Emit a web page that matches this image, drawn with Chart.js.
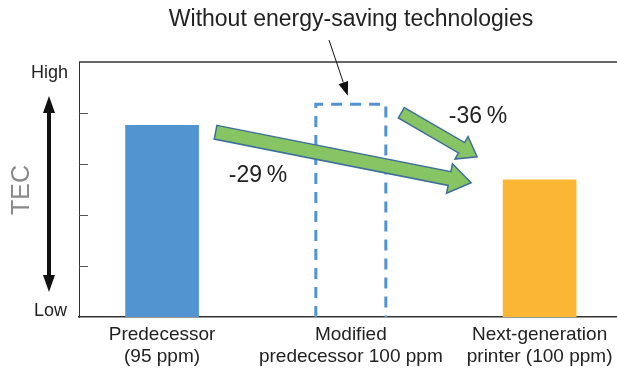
<!DOCTYPE html>
<html>
<head>
<meta charset="utf-8">
<script src="https://cdn.jsdelivr.net/npm/chart.js@4"></script>
<style>
  html, body { margin: 0; padding: 0; background: #fff; }
  canvas { display: block; }
</style>
</head>
<body>
<canvas id="tecChart" width="617" height="370"></canvas>
<script>
// bars (0 = Low, 5 = High)
const categories = [
  ["Predecessor", "(95 ppm)"],
  ["Modified", "predecessor 100 ppm"],
  ["Next-generation", "printer (100 ppm)"]
];
const tecValues = [3.76, 4.2, 2.69];
const barColors = ["#5294d0", "rgba(0,0,0,0)", "#fbb733"];
const yTicks = [0, 1, 2, 3, 4, 5];
const reductionLabels = ["-29\u2009%", "-36\u2009%"];

const FONT = "'Liberation Sans', Arial, sans-serif";

function arrow(ctx, x1, y1, x2, y2, shaft, head, headLen) {
  const a = Math.atan2(y2 - y1, x2 - x1);
  const len = Math.hypot(x2 - x1, y2 - y1);
  ctx.save();
  ctx.translate(x1, y1);
  ctx.rotate(a);
  ctx.beginPath();
  ctx.moveTo(0, -shaft / 2);
  ctx.lineTo(len - headLen, -shaft / 2);
  ctx.lineTo(len - headLen, -head / 2);
  ctx.lineTo(len, 0);
  ctx.lineTo(len - headLen, head / 2);
  ctx.lineTo(len - headLen, shaft / 2);
  ctx.lineTo(0, shaft / 2);
  ctx.closePath();
  ctx.fillStyle = "#86c464";
  ctx.fill();
  ctx.lineWidth = 1.5;
  ctx.strokeStyle = "#3d6f99";
  ctx.stroke();
  ctx.restore();
}

function thinArrow(ctx, x1, y1, x2, y2, w, l, lw) {
  const a = Math.atan2(y2 - y1, x2 - x1);
  ctx.save();
  ctx.strokeStyle = "#111";
  ctx.fillStyle = "#111";
  ctx.lineWidth = lw;
  ctx.beginPath();
  ctx.moveTo(x1, y1);
  ctx.lineTo(x2 - Math.cos(a) * l, y2 - Math.sin(a) * l);
  ctx.stroke();
  ctx.translate(x2, y2);
  ctx.rotate(a);
  ctx.beginPath();
  ctx.moveTo(0, 0);
  ctx.lineTo(-l, -w / 2);
  ctx.lineTo(-l, w / 2);
  ctx.closePath();
  ctx.fill();
  ctx.restore();
}

const decor = {
  id: "decor",
  afterDatasetsDraw(chart) {
    const ctx = chart.ctx;
    const area = chart.chartArea;
    const ys = chart.scales.y;
    const bars = chart.getDatasetMeta(0).data;

    // top frame line
    ctx.save();
    ctx.strokeStyle = "#333";
    ctx.lineWidth = 1.5;
    ctx.beginPath();
    ctx.moveTo(area.left, area.top);
    ctx.lineTo(chart.width, area.top);
    ctx.stroke();

    // inward ticks on the left axis
    ctx.lineWidth = 1;
    ctx.strokeStyle = "#555";
    ys.ticks.forEach(t => {
      if (t.value === ys.min || t.value === ys.max) return;
      const py = Math.round(ys.getPixelForValue(t.value)) + 0.5;
      ctx.beginPath();
      ctx.moveTo(area.left, py);
      ctx.lineTo(area.left + 9, py);
      ctx.stroke();
    });

    // dashed outline for the hypothetical bar
    const b = bars[1];
    const half = b.width / 2;
    ctx.strokeStyle = "#4f93d2";
    ctx.lineWidth = 3;
    ctx.setLineDash([11, 8]);
    ctx.beginPath();
    ctx.moveTo(b.x - half + 1.5, b.base);
    ctx.lineTo(b.x - half + 1.5, b.y + 1.5);
    ctx.lineTo(b.x + half - 1.5, b.y + 1.5);
    ctx.lineTo(b.x + half - 1.5, b.base);
    ctx.stroke();
    ctx.setLineDash([]);
    ctx.restore();

    // green reduction arrows
    const p = bars[0], n = bars[2];
    arrow(ctx, p.x + p.width / 2 + 17, p.y + 7, n.x - n.width / 2 - 32, n.y + 3, 14, 30, 22);
    arrow(ctx, b.x + half + 14, b.y + 10, n.x - n.width / 2 - 26, n.y - 23, 12, 26, 18);

    // texts
    ctx.save();
    ctx.fillStyle = "#222";
    ctx.textAlign = "center";
    ctx.textBaseline = "middle";
    ctx.font = "23px " + FONT;
    ctx.fillText(reductionLabels[0], 258, 176);
    ctx.fillText(reductionLabels[1], 478, 117);
    ctx.fillText("Without energy-saving technologies", 351, 20);
    ctx.restore();

    thinArrow(ctx, 329, 40, b.x - 3, b.y - 7, 10, 14, 1);

    // left side: High / Low, double arrow, TEC
    ctx.save();
    ctx.fillStyle = "#222";
    ctx.font = "18px " + FONT;
    ctx.textAlign = "right";
    ctx.textBaseline = "middle";
    ctx.fillText("High", 68, 73);
    ctx.fillText("Low", 67, 311);
    ctx.restore();

    ctx.save();
    ctx.strokeStyle = "#111";
    ctx.fillStyle = "#111";
    ctx.lineWidth = 4;
    ctx.beginPath();
    ctx.moveTo(49, 108);
    ctx.lineTo(49, 280);
    ctx.stroke();
    [[96, 1], [292, -1]].forEach(([ty, d]) => {
      ctx.beginPath();
      ctx.moveTo(49, ty);
      ctx.lineTo(43, ty + d * 17);
      ctx.lineTo(55, ty + d * 17);
      ctx.closePath();
      ctx.fill();
    });
    ctx.restore();

    ctx.save();
    ctx.translate(22, 190);
    ctx.rotate(-Math.PI / 2);
    ctx.fillStyle = "#8a8a8a";
    ctx.font = "25px " + FONT;
    ctx.textAlign = "center";
    ctx.textBaseline = "middle";
    ctx.fillText("TEC", 0, 0);
    ctx.restore();
  }
};

new Chart(document.getElementById("tecChart"), {
  type: "bar",
  data: {
    datasets: [{
      data: categories.map((c, i) => ({ x: i + 1, y: tecValues[i] })),
      backgroundColor: barColors,
      borderWidth: 0,
      barThickness: 73
    }]
  },
  options: {
    responsive: false,
    animation: false,
    events: [],
    layout: { padding: { left: 79, top: 62, right: 0, bottom: 0 } },
    plugins: { legend: { display: false }, tooltip: { enabled: false } },
    scales: {
      x: {
        type: "linear",
        offset: false,
        min: 0.56,
        max: 3.41,
        afterBuildTicks: s => { s.ticks = categories.map((c, i) => ({ value: i + 1 })); },
        afterFit: s => { s.height = 53; },
        ticks: {
          autoSkip: false,
          maxRotation: 0,
          padding: -2,
          color: "#222",
          font: { family: FONT, size: 19, lineHeight: 1.2 },
          callback: v => categories[Math.round(v) - 1]
        },
        grid: { display: false },
        border: { display: true, color: "#333", width: 1.5 }
      },
      y: {
        min: 0,
        max: 5,
        afterBuildTicks: s => { s.ticks = yTicks.map(v => ({ value: v })); },
        afterFit: s => { s.width = 0; },
        ticks: { display: false },
        grid: { display: false },
        border: { display: true, color: "#333", width: 1 }
      }
    }
  },
  plugins: [decor]
});
</script>
</body>
</html>
